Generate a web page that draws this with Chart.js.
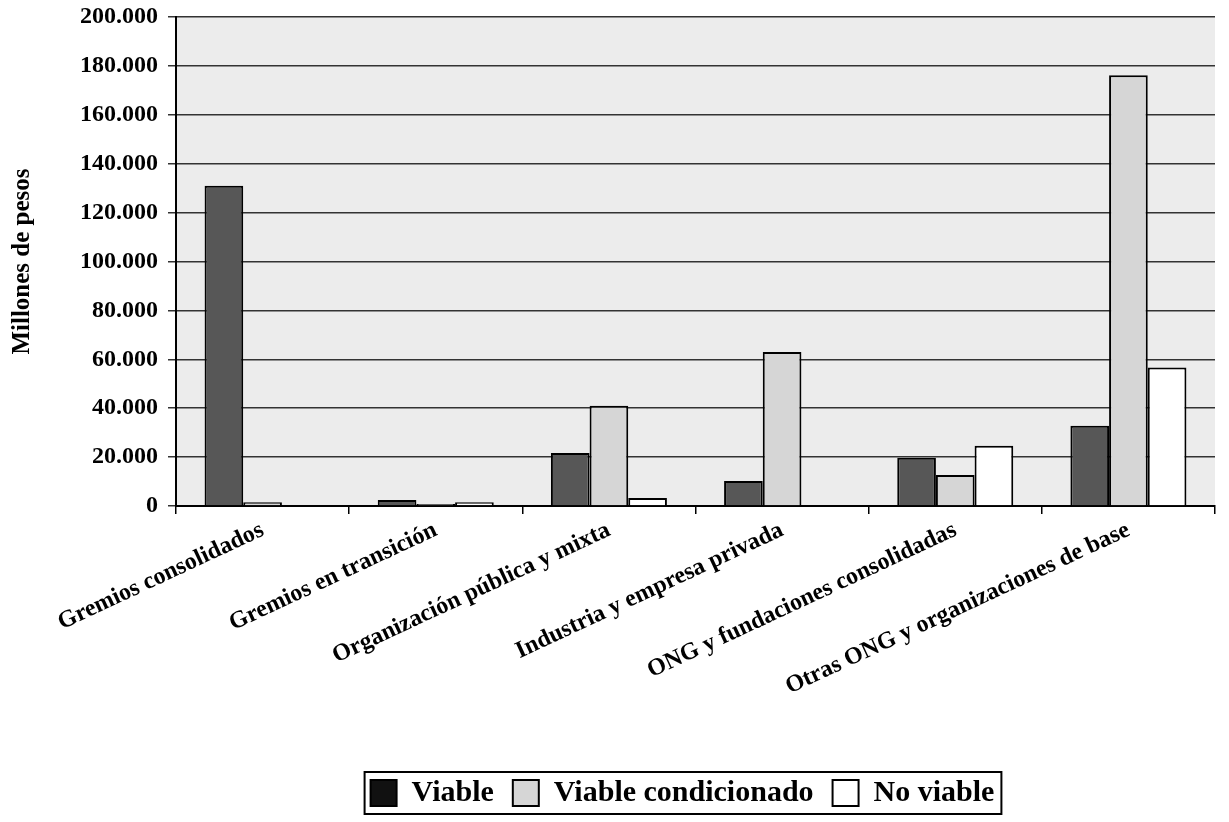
<!DOCTYPE html>
<html>
<head>
<meta charset="utf-8">
<script src="https://cdn.jsdelivr.net/npm/chart.js@4"></script>
<style>
  body { margin: 0; background: #fff; }
  #wrap { width: 1229px; height: 822px; }
</style>
</head>
<body>
<div id="wrap"><canvas id="chart" width="1229" height="822"></canvas></div>
<script>
// Datos (millones de pesos)
const categorias = [
    'Gremios consolidados',
    'Gremios en transición',
    'Organización pública y mixta',
    'Industria y empresa privada',
    'ONG y fundaciones consolidadas',
    'Otras ONG y organizaciones de base'
];
const viable = [131000, 2500, 21700, 10200, 19700, 32800];
const viableCondicionado = [1500, 800, 41000, 63000, 12700, 176200];
const noViable = [0, 1500, 3300, 0, 24600, 56600];

const series = ['Viable', 'Viable condicionado', 'No viable'];
const yMax = 200000;
const yStep = 20000;

const fuente = 'Liberation Serif, "Times New Roman", serif';

// formato 200.000
const miles = v => String(v).replace(/\B(?=(\d{3})+(?!\d))/g, '.');

// fondo gris del área del gráfico
const fondo = {
    id: 'fondo',
    beforeDraw(chart) {
        const { ctx, chartArea: a } = chart;
        ctx.save();
        ctx.fillStyle = '#fff';
        ctx.fillRect(0, 0, chart.width, chart.height);
        ctx.fillStyle = '#ececec';
        ctx.fillRect(a.left, a.top, a.right - a.left, a.bottom - a.top);
        ctx.restore();
    }
};

// leyenda un poco a la derecha del centro, como en el original
const moverLeyenda = {
    id: 'moverLeyenda',
    afterLayout(chart) {
        chart.legend.left += 75;
        chart.legend.right += 75;
    }
};

// marco alrededor de la leyenda
const marcoLeyenda = {
    id: 'marcoLeyenda',
    afterDraw(chart) {
        const boxes = chart.legend.legendHitBoxes;
        if (!boxes || !boxes.length) return;
        const x0 = Math.min(...boxes.map(b => b.left)) - 6;
        const x1 = Math.max(...boxes.map(b => b.left + b.width)) + 7;
        const y0 = Math.min(...boxes.map(b => b.top)) - 6;
        const y1 = Math.max(...boxes.map(b => b.top + b.height)) + 6;
        const ctx = chart.ctx;
        ctx.save();
        ctx.strokeStyle = '#000';
        ctx.lineWidth = 2;
        ctx.strokeRect(x0, y0, x1 - x0, y1 - y0);
        ctx.restore();
    }
};

new Chart(document.getElementById('chart'), {
    type: 'bar',
    data: {
        labels: categorias,
        datasets: [
            { label: series[0], data: viable, backgroundColor: '#575757', borderColor: '#000', borderWidth: 2 },
            { label: series[1], data: viableCondicionado, backgroundColor: '#d6d6d6', borderColor: '#000', borderWidth: 2 },
            { label: series[2], data: noViable, backgroundColor: '#ffffff', borderColor: '#000', borderWidth: 2 }
        ]
    },
    options: {
        responsive: false,
        animation: false,
        categoryPercentage: 0.67,
        barPercentage: 1,
        layout: { padding: { top: 0, right: 14, left: 0, bottom: 4 } },
        plugins: {
            tooltip: { enabled: false },
            legend: {
                position: 'bottom',
                labels: {
                    color: '#000',
                    font: { family: fuente, size: 30, weight: 'bold' },
                    boxWidth: 26,
                    boxHeight: 26,
                    padding: 19,
                    generateLabels(chart) {
                        const items = Chart.defaults.plugins.legend.labels.generateLabels(chart);
                        items[0].fillStyle = '#111';
                        items.forEach(i => { i.lineWidth = 2; i.strokeStyle = '#000'; });
                        return items;
                    }
                }
            }
        },
        scales: {
            x: {
                grid: { drawOnChartArea: false, drawTicks: true, tickLength: 8, color: '#000', lineWidth: 1.5 },
                border: { display: true, color: '#000', width: 2 },
                ticks: {
                    color: '#000',
                    font: { family: fuente, size: 24, weight: 'bold' },
                    minRotation: 25,
                    maxRotation: 25,
                    autoSkip: false,
                    padding: 2
                },
                afterFit(scale) { scale.height = 253; }
            },
            y: {
                min: 0,
                max: yMax,
                grid: { color: '#333', lineWidth: 1.5, tickLength: 8 },
                border: { display: true, color: '#000', width: 2 },
                ticks: {
                    stepSize: yStep,
                    color: '#000',
                    padding: 10,
                    font: { family: fuente, size: 24, weight: 'bold' },
                    callback: v => miles(v)
                },
                title: {
                    display: true,
                    text: 'Millones de pesos',
                    color: '#000',
                    font: { family: fuente, size: 25, weight: 'bold' },
                    padding: { top: 8, bottom: 0 }
                },
                afterFit(scale) {
                    scale.width = 176;
                    scale.paddingTop = 17;
                }
            }
        }
    },
    plugins: [fondo, moverLeyenda, marcoLeyenda]
});
</script>
</body>
</html>
